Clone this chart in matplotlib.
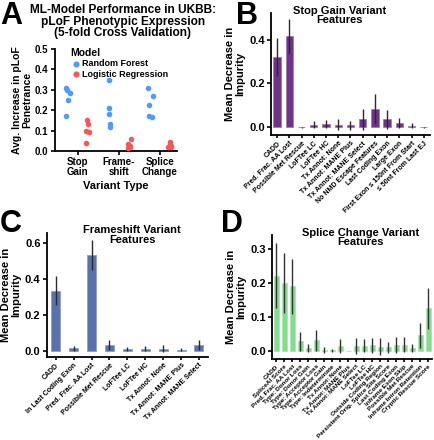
import numpy as np
import matplotlib
matplotlib.use("Agg")
import matplotlib.pyplot as plt

plt.rcParams['font.family'] = ['Liberation Sans', 'DejaVu Sans']
plt.rcParams['font.weight'] = 'bold'
plt.rcParams['axes.labelweight'] = 'bold'
plt.rcParams['axes.linewidth'] = 1.3

# ---------------- Panel A data ----------------
variant_types = ["Stop\nGain", "Frame-\nshift", "Splice\nChange"]
rf_stop = [0.31, 0.30, 0.285, 0.25, 0.17]
lr_stop = [0.15, 0.13, 0.10, 0.095, 0.04]
rf_frame = [0.345, 0.21, 0.18, 0.13, 0.115]
lr_frame = [0.06, 0.035, 0.025, 0.02, 0.015]
rf_splice = [0.31, 0.27, 0.225, 0.17, 0.165]
lr_splice = [0.045, 0.035, 0.025, 0.02, 0.018]

# ---------------- Panel B data ----------------
b_features = ["CADD", "Pred. Frac. AA Lost", "Possible Met Rescue", "LoFTee LC", "LoFTee HC",
              "Tx Annot: None", "Tx Annot: MANE Plus", "Tx Annot: MANE Select",
              "No NMD Escape Features", "Last Coding Exon", "Large Exon",
              "First Exon ≤ 150nt From Start", "≤ 50nt From Last EJ"]
b_values = [0.32, 0.415, 0.001, 0.013, 0.014, 0.013, 0.009, 0.036, 0.083, 0.036, 0.02, 0.007, 0.001]
b_errors = [0.085, 0.08, 0.003, 0.017, 0.018, 0.024, 0.02, 0.048, 0.067, 0.043, 0.022, 0.012, 0.003]

# ---------------- Panel C data ----------------
c_features = ["CADD", "In Last Coding Exon", "Pred. Frac. AA Lost", "Possible Met Rescue",
              "LoFTee LC", "LoFTee HC", "Tx Annot: None", "Tx Annot: MANE Plus",
              "Tx Annot: MANE Select"]
c_values = [0.335, 0.012, 0.535, 0.033, 0.008, 0.01, 0.01, 0.005, 0.03]
c_errors = [0.083, 0.014, 0.085, 0.028, 0.013, 0.014, 0.02, 0.01, 0.027]

# ---------------- Panel D data ----------------
d_features = ["CADD", "SpliceAI Score", "Pred. Frac. AA Lost", "Type: Donor Loss",
              "Type: Donor Gain", "Type: Acceptor Loss", "Type: Acceptor Gain",
              "Type: Indeterminate", "Tx Annot: None", "Tx Annot: MANE Plus",
              "Tx Annot: MANE Select", "LoFTee LC", "LoFTee HC", "Outside Coding Region",
              "Persistent Orig. Splice Site Score", "Last Coding Exon", "Inframe Exon Skip",
              "Possible Met Rescue", "Inframe Intron Retention", "Cryptic Rescue Score"]
d_values = [0.222, 0.2, 0.19, 0.027, 0.007, 0.03, 0.002, 0.001, 0.013, 0.0,
            0.013, 0.015, 0.016, 0.012, 0.01, 0.016, 0.018, 0.007, 0.045, 0.125]
d_errors = [0.095, 0.088, 0.082, 0.027, 0.012, 0.03, 0.009, 0.004, 0.02, 0.0,
            0.024, 0.02, 0.022, 0.024, 0.016, 0.023, 0.021, 0.012, 0.036, 0.06]

fig = plt.figure(figsize=(4.34, 4.40), dpi=100)

def style(ax, ysize):
    ax.spines['top'].set_visible(False)
    ax.spines['right'].set_visible(False)
    ax.tick_params(axis='both', width=1.2, length=3, pad=1.5)
    ax.tick_params(axis='y', labelsize=ysize)

# ---------------- Panel A ----------------
axA = fig.add_axes([0.1256, 0.657, 0.282, 0.232])
style(axA, 7)
rng = np.random.default_rng(3)
rf_all = [rf_stop, rf_frame, rf_splice]
lr_all = [lr_stop, lr_frame, lr_splice]
for i in range(3):
    jr = rng.uniform(-0.06, 0.06, len(rf_all[i]))
    jl = rng.uniform(-0.06, 0.06, len(lr_all[i]))
    axA.scatter(i - 0.24 + jr, rf_all[i], s=16, color='#4f9bf5', zorder=3,
                label='Random Forest' if i == 0 else None, linewidths=0)
    axA.scatter(i + 0.24 + jl, lr_all[i], s=16, color='#f25a5a', zorder=3,
                label='Logistic Regression' if i == 0 else None, linewidths=0)
axA.set_xlim(-0.57, 2.41)
axA.set_ylim(0, 0.5)
axA.set_yticks([0.0, 0.1, 0.2, 0.3, 0.4, 0.5])
axA.set_yticklabels(['0.0', '0.1', '0.2', '0.3', '0.4', '0.5'], fontweight='bold', fontsize=7)
axA.set_xticks([0, 1, 2])
axA.set_xticklabels(variant_types, fontsize=7, fontweight='bold', linespacing=0.95)
axA.set_ylabel("Avg. Increase in pLoF\nPenetrance", fontsize=7.5, linespacing=1.0, labelpad=2)
axA.set_xlabel("Variant Type", fontsize=8, labelpad=3)
leg = axA.legend(title='Model', loc='upper left', bbox_to_anchor=(0.08, 1.07), frameon=False,
                 fontsize=6.5, title_fontsize=7.5, handletextpad=0.1, borderpad=0.2,
                 labelspacing=0.15, handlelength=1.2, markerscale=1.1)
leg._legend_box.align = 'left'
for t in leg.get_texts():
    t.set_fontweight('bold')
leg.get_title().set_fontweight('bold')
fig.text(0.283, 0.99, "ML-Model Performance in UKBB:\npLoF Phenotypic Expression\n(5-fold Cross Validation)",
         ha='center', va='top', fontsize=8.6, fontweight='bold', linespacing=0.92)

def bar_panel(rect, features, values, errors, color, edge, title, yticks, ylim, err_color, width,
              title_x, xfs):
    ax = fig.add_axes(rect)
    style(ax, 8)
    x = np.arange(len(features))
    ax.bar(x, values, width=width, color=color, edgecolor=edge, linewidth=0.6, zorder=2)
    ax.errorbar(x, values, yerr=errors, fmt='none', ecolor=err_color, elinewidth=1.0, capsize=0, zorder=3)
    ax.set_xlim(-0.5, len(features) - 0.5)
    ax.set_ylim(*ylim)
    ax.set_yticks(yticks)
    ax.set_yticklabels(['%.1f' % v for v in yticks], fontweight='bold', fontsize=8)
    ax.set_xticks(x)
    ax.set_xticklabels(features, rotation=45, ha='right', rotation_mode='anchor', fontsize=xfs,
                       fontweight='bold')
    ax.tick_params(axis='x', length=2.5, pad=1)
    ax.set_ylabel("Mean Decrease in\nImpurity", fontsize=8, linespacing=1.0, labelpad=3)
    ax.text(title_x, 1.06, title, transform=ax.transAxes, ha='center', va='top',
            fontsize=8, fontweight='bold', linespacing=0.95)
    return ax

bar_panel([0.6244, 0.693, 0.366, 0.277], b_features, b_values, b_errors,
          '#6f3486', '#a27ab5', "Stop Gain Variant\nFeatures", [0.0, 0.2, 0.4],
          (-0.035, 0.52), '#2a2a2a', 0.6, 0.43, 5)
bar_panel([0.108, 0.1886, 0.371, 0.282], c_features, c_values, c_errors,
          '#5a71aa', '#8f9fc8', "Frameshift Variant\nFeatures", [0.0, 0.2, 0.4, 0.6],
          (-0.036, 0.657), '#2a2a2a', 0.5, 0.53, 5)
bar_panel([0.627, 0.184, 0.369, 0.282], d_features, d_values, d_errors,
          '#86dc8e', '#a6e8ac', "Splice Change Variant\nFeatures", [0.0, 0.1, 0.2, 0.3],
          (-0.025, 0.342), '#333333', 0.6, 0.55, 4.6)

# Panel letters
for lx, ly, letter in [(0.0, 0.998, 'A'), (0.543, 0.998, 'B'), (0.0, 0.525, 'C'), (0.51, 0.525, 'D')]:
    fig.text(lx, ly, letter, fontsize=22, fontweight='bold', ha='left', va='top')

fig.savefig('out.png', dpi=100)
